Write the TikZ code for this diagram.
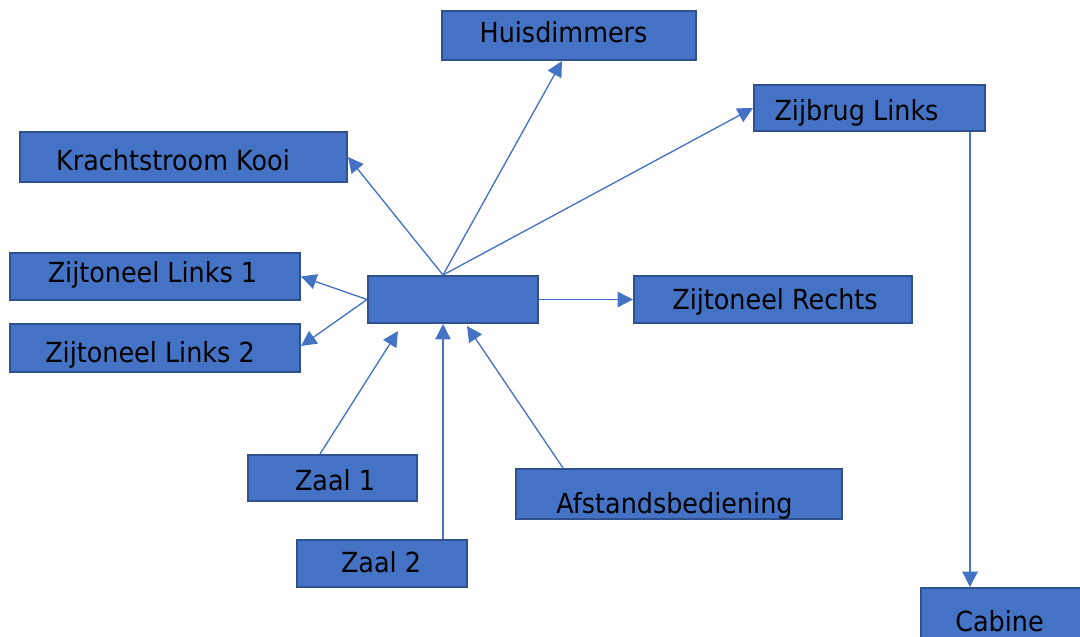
\documentclass[tikz,border=0pt]{standalone}
\usepackage{fontspec}
\setmainfont{DejaVu Sans}[FakeStretch=0.92]
\usetikzlibrary{calc,arrows.meta}
\definecolor{boxfill}{HTML}{4472C4}
\definecolor{boxedge}{HTML}{2F528F}
\definecolor{linkc}{HTML}{4472C4}
\newcommand{\bt}[3]{\hspace*{#1}\raisebox{#2}{#3}\hspace*{-#1}}
\begin{document}
\begin{tikzpicture}[x=0.75pt,y=-0.75pt,
  blk/.style={draw=boxedge,fill=boxfill,line width=1.5pt,rectangle,inner sep=0pt,
    font=\fontsize{20.75}{24}\selectfont,text=black,text height=15.1pt,text depth=0pt},
  lnk/.style={draw=linkc,line width=1pt,-{Triangle[length=11.5pt,width=11.5pt]}}]
\useasboundingbox (0,0) rectangle (1080,636);
\clip (0,0) rectangle (1080,636);
% boxes
\node[blk,minimum width=190.5pt,minimum height=36.75pt] (huis) at (569,35.5) {\bt{-4.1pt}{2.1pt}{Huisdimmers}};
\node[blk,minimum width=173.25pt,minimum height=34.5pt] (zijbrug) at (869.5,108) {\bt{-9.75pt}{-1.5pt}{Zijbrug Links}};
\node[blk,minimum width=245.25pt,minimum height=37.5pt] (kracht) at (183.5,157) {\bt{-7.9pt}{-2.25pt}{Krachtstroom Kooi}};
\node[blk,minimum width=127.5pt,minimum height=35.25pt] (ctr) at (453,299.5) {};
\node[blk,minimum width=217.5pt,minimum height=35.25pt] (zl1) at (155,276.5) {\bt{-1.9pt}{3pt}{Zijtoneel Links 1}};
\node[blk,minimum width=217.5pt,minimum height=36pt] (zl2) at (155,348) {\bt{-3.75pt}{-3.4pt}{Zijtoneel Links 2}};
\node[blk,minimum width=208.5pt,minimum height=35.25pt] (zr) at (773,299.5) {\bt{1.5pt}{0pt}{Zijtoneel Rechts}};
\node[blk,minimum width=126.75pt,minimum height=34.5pt] (zaal1) at (332.5,478) {\bt{1.9pt}{-1.5pt}{Zaal 1}};
\node[blk,minimum width=244.5pt,minimum height=37.5pt] (afst) at (679,494) {\bt{-3.4pt}{-6.75pt}{Afstandsbediening}};
\node[blk,minimum width=127.5pt,minimum height=35.25pt] (zaal2) at (382,563.5) {\bt{-0.75pt}{1.1pt}{Zaal 2}};
\node[blk,minimum width=123pt,minimum height=46.5pt] (cabine) at (1003,619) {\bt{-2.6pt}{-1.5pt}{Cabine}};
% connectors
\draw[lnk] ($(ctr.north)+(-10,0)$) -- ($(huis.south)+(-7,0)$);
\draw[lnk] ($(ctr.north)+(-10,0)$) -- (zijbrug.west);
\draw[lnk] ($(ctr.north)+(-10,0)$) -- (kracht.east);
\draw[lnk] (ctr.west) -- (zl1.east);
\draw[lnk] (ctr.west) -- ($(zl2.east)+(0,-2)$);
\draw[lnk] (ctr.east) -- (zr.west);
\draw[lnk] ($(zaal1.north)+(-12.5,0)$) -- ($(ctr.south)+(-55,7)$);
\draw[lnk] ($(zaal2.north)+(61,0)$) -- ($(ctr.south)+(-10,0)$);
\draw[lnk] ($(afst.north)+(-116,0)$) -- ($(ctr.south)+(14,2)$);
\draw[lnk] ($(zijbrug.south)+(100.5,0)$) -- ($(cabine.north)+(-33,0)$);
\end{tikzpicture}
\end{document}
